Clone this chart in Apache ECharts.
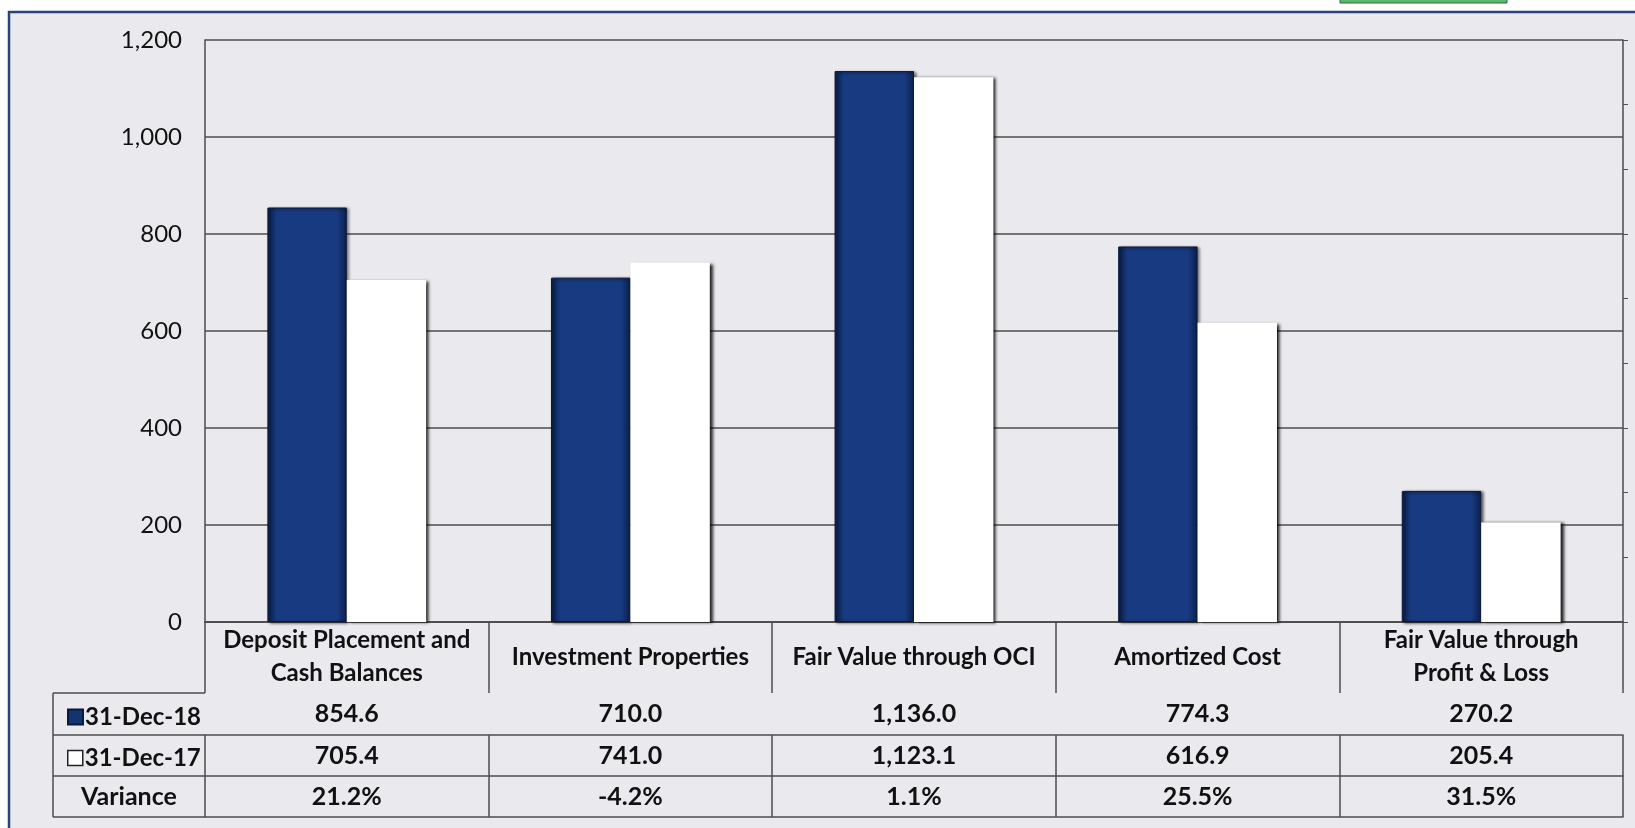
<!DOCTYPE html>
<html>
<head>
<meta charset="utf-8">
<script src="https://cdn.jsdelivr.net/npm/echarts@6/dist/echarts.min.js"></script>
<style>
  html, body { margin: 0; padding: 0; background: #fff; }
  #myChart { width: 1635px; height: 828px; }
</style>
</head>
<body>
<div id="myChart"></div>
<script>
const categories = [
  "Deposit Placement and\nCash Balances",
  "Investment Properties",
  "Fair Value through OCI",
  "Amortized Cost",
  "Fair Value through\nProfit & Loss",
];
const dec18 = [854.6, 710.0, 1136.0, 774.3, 270.2];
const dec17 = [705.4, 741.0, 1123.1, 616.9, 205.4];
const variance = [21.2, -4.2, 1.1, 25.5, 31.5];
const yTicks = [0, 200, 400, 600, 800, 1000, 1200];

const font = "Lato, 'Open Sans', sans-serif";
const lineCol = "#4d4d4d";
const textCol = "#111111";

const fmtNum = (v) =>
  v.toLocaleString("en-US", { minimumFractionDigits: 1, maximumFractionDigits: 1 });
const fmtPct = (v) => v.toFixed(1) + "%";

var myChart = echarts.init(document.getElementById("myChart"));

// one bottom axis per table row, ticks drawn as the cell borders
const tableAxis = (offset, rowH, labels) => ({
  type: "category",
  position: "bottom",
  offset,
  data: categories,
  axisLine: { show: true, lineStyle: { color: lineCol, width: 1.5 } },
  axisTick: { show: true, interval: 0, length: rowH, lineStyle: { color: lineCol, width: 1.5 } },
  axisLabel: labels
    ? {
        interval: 0,
        margin: rowH / 2,
        verticalAlign: "middle",
        formatter: (v, i) => labels[i],
        fontFamily: font,
        fontWeight: "bold",
        fontSize: 25,
        color: textCol,
      }
    : { show: false },
  splitLine: { show: false },
});

const tableLine = (x1, y, x2) => ({
  type: "line",
  shape: { x1, y1: y, x2, y2: y },
  style: { stroke: lineCol, lineWidth: 1.5 },
});

const legendText = { fontFamily: font, fontWeight: "bold", fontSize: 24, color: textCol, padding: [0, 0, 0, -3] };

myChart.setOption({
  backgroundColor: "#ffffff",
  animation: false,
  graphic: [
    {
      type: "rect",
      z: -10,
      shape: { x: 9, y: 12, width: 1640, height: 830 },
      style: { fill: "#eae9ee", stroke: "#2a4478", lineWidth: 2.5 },
    },
    {
      type: "rect",
      shape: { x: 1340, y: -4, width: 167, height: 7 },
      style: { fill: "#5cb870", stroke: "#2e6a3c", lineWidth: 1 },
    },
    tableLine(53, 693, 205),
    tableLine(53, 735, 205),
    tableLine(53, 776, 205),
    tableLine(53, 817, 205),
    {
      type: "line",
      shape: { x1: 53, y1: 693, x2: 53, y2: 817 },
      style: { stroke: lineCol, lineWidth: 1.5 },
    },
    {
      type: "text",
      x: 129,
      y: 797,
      style: {
        text: "Variance",
        fontFamily: font,
        fontWeight: "bold",
        fontSize: 25,
        fill: textCol,
        align: "center",
        verticalAlign: "middle",
      },
    },
  ],
  legend: [
    {
      left: 62,
      top: 700,
      itemWidth: 15,
      itemHeight: 15,
      data: [{ name: "31-Dec-18", icon: "rect", itemStyle: { color: "#15346f" } }],
      textStyle: legendText,
    },
    {
      left: 62,
      top: 741,
      itemWidth: 15,
      itemHeight: 15,
      data: [
        {
          name: "31-Dec-17",
          icon: "rect",
          itemStyle: { color: "#ffffff", borderColor: "#222", borderWidth: 1.5 },
        },
      ],
      textStyle: legendText,
    },
  ],
  grid: { left: 205, right: 12, top: 40, bottom: 206 },
  xAxis: [
    {
      type: "category",
      position: "bottom",
      data: categories,
      axisLine: { show: true, lineStyle: { color: lineCol, width: 1.5 } },
      axisTick: { show: true, interval: 0, length: 71, lineStyle: { color: lineCol, width: 1.5 } },
      axisLabel: {
        interval: 0,
        margin: 35,
        verticalAlign: "middle",
        lineHeight: 33,
        fontFamily: font,
        fontWeight: "bold",
        fontSize: 24,
        color: textCol,
      },
    },
    tableAxis(71, 42, dec18.map(fmtNum)),
    tableAxis(113, 41, dec17.map(fmtNum)),
    tableAxis(154, 41, variance.map(fmtPct)),
    tableAxis(195, 0, null),
  ],
  yAxis: [
    {
      type: "value",
      min: yTicks[0],
      max: yTicks[yTicks.length - 1],
      interval: 200,
      axisLine: { show: true, lineStyle: { color: lineCol, width: 1.5 } },
      axisTick: { show: false },
      axisLabel: { margin: 23, fontFamily: font, fontSize: 24, color: textCol },
      splitLine: { lineStyle: { color: lineCol, width: 1.6 } },
    },
    {
      type: "value",
      position: "right",
      min: 0,
      max: 9,
      interval: 1,
      axisLine: { show: true, lineStyle: { color: lineCol, width: 1.5 } },
      axisTick: { show: true, length: 5, lineStyle: { color: lineCol } },
      axisLabel: { show: false },
      splitLine: { show: false },
    },
  ],
  series: [
    {
      name: "31-Dec-18",
      type: "bar",
      data: dec18,
      barGap: "0%",
      barCategoryGap: "44%",
      itemStyle: {
        color: new echarts.graphic.LinearGradient(0, 0, 1, 0, [
          { offset: 0, color: "#0b1f4b" },
          { offset: 0.12, color: "#183a80" },
          { offset: 0.88, color: "#183a80" },
          { offset: 1, color: "#0b1f4b" },
        ]),
        borderColor: "#0a1a3c",
        borderWidth: 1,
        shadowColor: "rgba(0,0,0,0.6)",
        shadowBlur: 3,
        shadowOffsetX: 2,
        shadowOffsetY: 1,
      },
    },
    {
      name: "31-Dec-17",
      type: "bar",
      data: dec17,
      itemStyle: {
        color: "#ffffff",
        shadowColor: "rgba(0,0,0,0.85)",
        shadowBlur: 3,
        shadowOffsetX: 3,
        shadowOffsetY: 1,
      },
    },
  ],
});
</script>
</body>
</html>
